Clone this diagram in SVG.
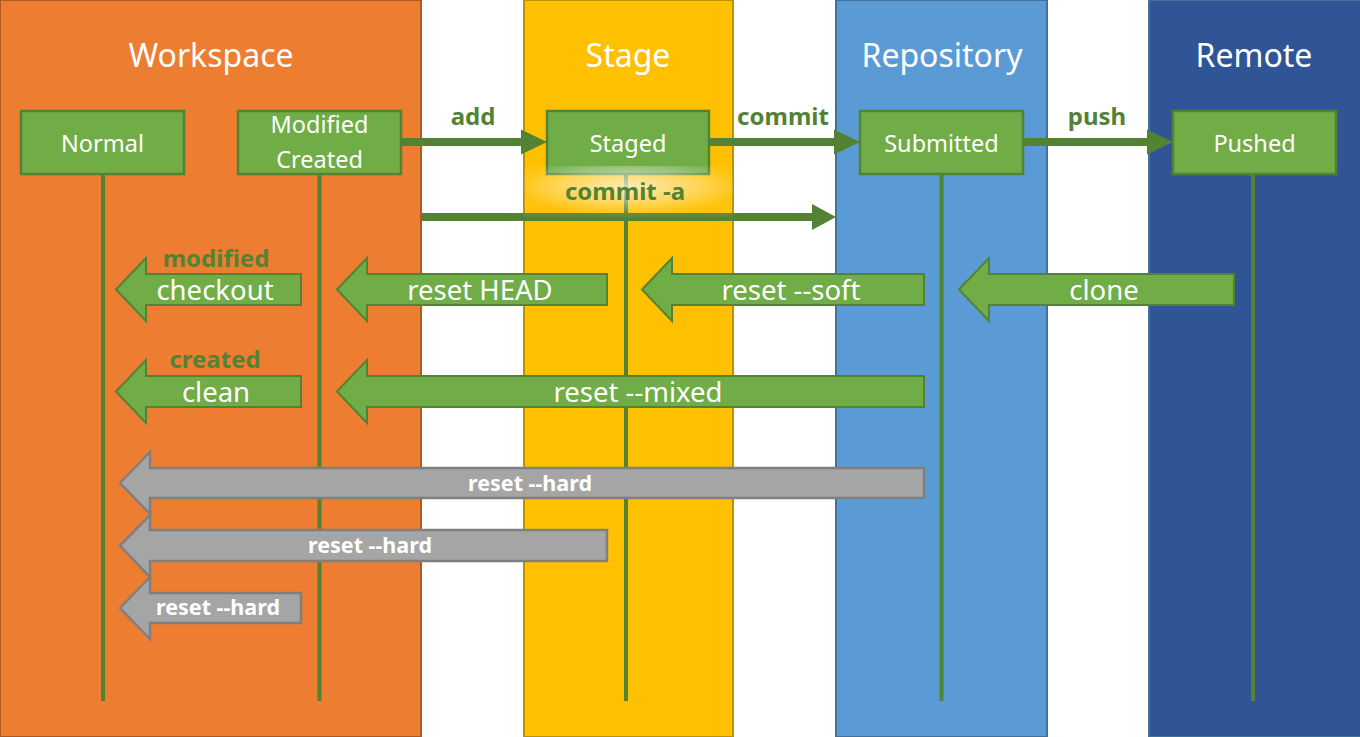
<svg xmlns="http://www.w3.org/2000/svg" width="1360" height="737" viewBox="0 0 1360 737">
<defs>
<style>
.col-title{font-family:"Noto Sans","Open Sans",sans-serif;font-size:32px;fill:#fff;text-anchor:middle}
.node rect{fill:#70AD47;stroke:#548235;stroke-width:2.5}
.node text{font-family:"Noto Sans","Open Sans",sans-serif;font-size:23.5px;fill:#fff;text-anchor:middle}
.life{stroke:#548235;stroke-width:4;fill:none}
.flow{stroke:#548235;stroke-width:8;fill:none}
.head{fill:#548235}
.lbl{font-family:"Noto Sans","Open Sans",sans-serif;font-size:24px;font-weight:bold;fill:#548235;text-anchor:middle}
.garrow{fill:#70AD47;stroke:#548235;stroke-width:2}
.gtext{font-family:"Noto Sans","Open Sans",sans-serif;font-size:27.5px;fill:#fff;text-anchor:middle}
.harrow{fill:#A5A5A5;stroke:#7F7F7F;stroke-width:2.5}
.htext{font-family:"Noto Sans","Open Sans",sans-serif;font-size:21.5px;font-weight:bold;fill:#fff;text-anchor:middle}
</style>
<radialGradient id="glow" cx="0.5" cy="0.4" r="0.55">
<stop offset="0" stop-color="#fff" stop-opacity="0.7"/>
<stop offset="0.6" stop-color="#fff" stop-opacity="0.35"/>
<stop offset="1" stop-color="#fff" stop-opacity="0.05"/>
</radialGradient>
</defs>
<rect width="1360" height="737" fill="#fff"/>
<g id="columns">
<g id="col-workspace"><rect x="0" y="0" width="421" height="737" fill="#ED7D31" stroke="#AE5A21" stroke-width="2"/><text class="col-title" x="211" y="67">Workspace</text></g>
<g id="col-stage"><rect x="524" y="0" width="209" height="737" fill="#FFC000" stroke="#BF9000" stroke-width="2"/><text class="col-title" x="628" y="67">Stage</text></g>
<g id="col-repository"><rect x="836" y="0" width="211" height="737" fill="#5B9BD5" stroke="#41719C" stroke-width="2"/><text class="col-title" x="942" y="67">Repository</text></g>
<g id="col-remote"><rect x="1149" y="0" width="212" height="737" fill="#2F5597" stroke="#41719C" stroke-width="2"/><text class="col-title" x="1254" y="67">Remote</text></g>
</g>
<g id="lifelines">
<line class="life" x1="103" y1="174" x2="103" y2="701"/>
<line class="life" x1="319.5" y1="174" x2="319.5" y2="701"/>
<line class="life" x1="626" y1="174" x2="626" y2="701"/>
<line class="life" x1="941.5" y1="174" x2="941.5" y2="701"/>
<line class="life" x1="1253" y1="174" x2="1253" y2="701"/>
</g>
<g id="node-normal" class="node"><rect x="21" y="111" width="163" height="63"/><text x="102.5" y="152">Normal</text></g>
<g id="node-modified" class="node"><rect x="238" y="111" width="163" height="63"/><text x="319.5" y="133">Modified</text><text x="319.5" y="168">Created</text></g>
<g id="node-staged" class="node"><rect x="547" y="111" width="162" height="63"/><text x="628" y="152">Staged</text></g>
<g id="node-submitted" class="node"><rect x="860" y="111" width="163" height="63"/><text x="941.5" y="152">Submitted</text></g>
<g id="node-pushed" class="node"><rect x="1173" y="111" width="163" height="63"/><text x="1254.5" y="152">Pushed</text></g>
<g id="connectors">
<line class="flow" x1="401" y1="142" x2="523" y2="142"/><polygon class="head" points="521,129.5 547,142 521,154.5"/>
<line class="flow" x1="709" y1="142" x2="836" y2="142"/><polygon class="head" points="834,129.5 860,142 834,154.5"/>
<line class="flow" x1="1023" y1="142" x2="1149" y2="142"/><polygon class="head" points="1147,129.5 1173,142 1147,154.5"/>
<line class="flow" x1="421" y1="217" x2="815" y2="217"/><polygon class="head" points="812,204 836,217 812,230"/>
<rect x="524" y="166" width="209" height="51" fill="url(#glow)"/>
<text class="lbl" x="473" y="125">add</text>
<text class="lbl" x="783" y="125">commit</text>
<text class="lbl" x="1097" y="125">push</text>
<text class="lbl" x="625" y="200">commit -a</text>
<text class="lbl" x="216" y="267">modified</text>
<text class="lbl" x="215" y="368">created</text>
<path class="garrow" d="M116,289.5 L146,258 L146,274 L301,274 L301,305 L146,305 L146,321 Z"/><text class="gtext" x="215" y="300">checkout</text>
<path class="garrow" d="M337,289.5 L367,258 L367,274 L607,274 L607,305 L367,305 L367,321 Z"/><text class="gtext" x="480" y="300">reset HEAD</text>
<path class="garrow" d="M642,289.5 L672,258 L672,274 L924,274 L924,305 L672,305 L672,321 Z"/><text class="gtext" x="791" y="300">reset --soft</text>
<path class="garrow" d="M959,289.5 L989,258 L989,274 L1234,274 L1234,305 L989,305 L989,321 Z"/><text class="gtext" x="1104" y="300">clone</text>
<path class="garrow" d="M116,391.5 L146,360 L146,376 L301,376 L301,407 L146,407 L146,423 Z"/><text class="gtext" x="216" y="402">clean</text>
<path class="garrow" d="M337,391.5 L367,360 L367,376 L924,376 L924,407 L367,407 L367,423 Z"/><text class="gtext" x="638" y="402">reset --mixed</text>
<path class="harrow" d="M120,483 L150,452 L150,468 L924,468 L924,498 L150,498 L150,514 Z"/><text class="htext" x="530" y="491">reset --hard</text>
<path class="harrow" d="M120,545.5 L150,515 L150,530 L607,530 L607,561 L150,561 L150,577 Z"/><text class="htext" x="370" y="553">reset --hard</text>
<path class="harrow" d="M120,608 L150,577 L150,593 L301,593 L301,623 L150,623 L150,639 Z"/><text class="htext" x="218" y="615">reset --hard</text>
</g>
</svg>
